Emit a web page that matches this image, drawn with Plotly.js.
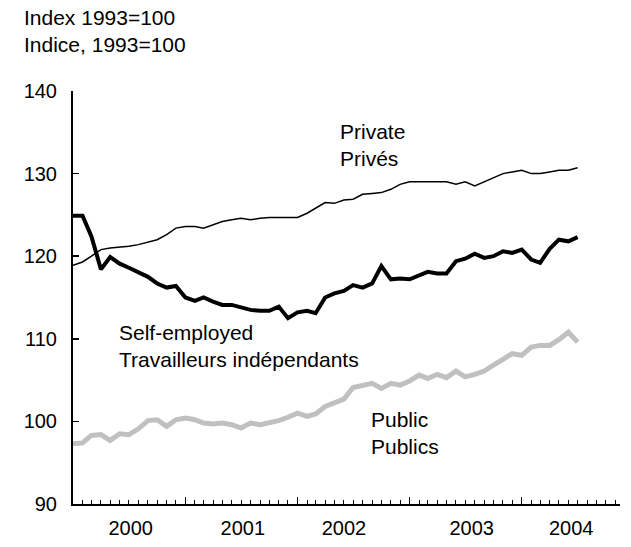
<!DOCTYPE html>
<html>
<head>
<meta charset="utf-8">
<script src="https://cdn.plot.ly/plotly-3.0.1.min.js"></script>
<style>html,body{margin:0;padding:0;background:#fff;}#chart{width:631px;height:547px;}</style>
</head>
<body>
<div id="chart"></div>
<script>
// Monthly observations, January 2000 to July 2004
const months = [
  '2000-01-01','2000-02-01','2000-03-01','2000-04-01','2000-05-01','2000-06-01','2000-07-01','2000-08-01','2000-09-01','2000-10-01','2000-11-01','2000-12-01',
  '2001-01-01','2001-02-01','2001-03-01','2001-04-01','2001-05-01','2001-06-01','2001-07-01','2001-08-01','2001-09-01','2001-10-01','2001-11-01','2001-12-01',
  '2002-01-01','2002-02-01','2002-03-01','2002-04-01','2002-05-01','2002-06-01','2002-07-01','2002-08-01','2002-09-01','2002-10-01','2002-11-01','2002-12-01',
  '2003-01-01','2003-02-01','2003-03-01','2003-04-01','2003-05-01','2003-06-01','2003-07-01','2003-08-01','2003-09-01','2003-10-01','2003-11-01','2003-12-01',
  '2004-01-01','2004-02-01','2004-03-01','2004-04-01','2004-05-01','2004-06-01','2004-07-01'
];

const privateIdx = [
  118.9,119.3,120.0,120.8,121.0,121.1,121.2,121.4,121.7,122.0,122.6,123.4,
  123.6,123.6,123.4,123.8,124.2,124.4,124.6,124.4,124.6,124.7,124.7,124.7,
  124.7,125.2,125.8,126.5,126.4,126.8,126.9,127.5,127.6,127.7,128.1,128.7,
  129.0,129.0,129.0,129.0,129.0,128.7,129.0,128.5,129.0,129.5,130.0,130.2,
  130.4,130.0,130.0,130.2,130.4,130.4,130.7
];

const selfEmployedIdx = [
  124.9,124.9,122.4,118.4,119.9,119.1,118.6,118.0,117.5,116.7,116.2,116.4,
  115.0,114.6,115.0,114.5,114.1,114.1,113.8,113.5,113.4,113.4,113.9,112.5,
  113.2,113.4,113.1,115.0,115.5,115.8,116.5,116.2,116.7,118.8,117.2,117.3,
  117.2,117.7,118.1,117.9,117.9,119.4,119.7,120.3,119.8,120.0,120.6,120.4,
  120.8,119.6,119.2,120.9,122.0,121.8,122.3
];

const publicIdx = [
  97.3,97.4,98.3,98.4,97.7,98.5,98.4,99.1,100.1,100.2,99.4,100.2,
  100.4,100.2,99.8,99.7,99.8,99.6,99.2,99.8,99.6,99.8,100.1,100.5,
  101.0,100.6,100.9,101.8,102.3,102.7,104.1,104.3,104.6,104.0,104.6,104.4,
  104.9,105.6,105.2,105.7,105.3,106.1,105.4,105.7,106.1,106.8,107.5,108.2,
  108.0,109.0,109.2,109.2,109.9,110.8,109.6
];

// Year labels and where they sit along the time axis
const yearLabels = ['2000','2001','2002','2003','2004'];
const yearLabelDates = ['2000-07-07','2001-07-07','2002-06-01','2003-07-22','2004-06-10'];

const xRange = ['2000-01-01','2004-11-16'];
const FONT = 'Liberation Sans, Arial, Helvetica, sans-serif';
const TEXT_SIZE = 21;

const traces = [
  {x: months, y: publicIdx, type: 'scatter', mode: 'lines', name: 'Public',
   line: {color: '#c0c0c0', width: 5}, hoverinfo: 'skip'},
  {x: months, y: privateIdx, type: 'scatter', mode: 'lines', name: 'Private',
   line: {color: '#000000', width: 1.5}, hoverinfo: 'skip'},
  {x: months, y: selfEmployedIdx, type: 'scatter', mode: 'lines', name: 'Self-employed',
   line: {color: '#000000', width: 4}, hoverinfo: 'skip'},
  {x: yearLabelDates, y: yearLabels.map(() => null), xaxis: 'x2', type: 'scatter',
   mode: 'lines', showlegend: false, hoverinfo: 'skip'}
];

const layout = {
  width: 631, height: 547,
  margin: {l: 73, r: 11, t: 91, b: 43, pad: 0},
  paper_bgcolor: '#ffffff', plot_bgcolor: '#ffffff',
  showlegend: false,
  font: {family: FONT, size: 20, color: '#000000'},
  title: {
    text: 'Index 1993=100<br>Indice, 1993=100',
    x: 24/631, xref: 'container', xanchor: 'left',
    y: 1 - 25/547, yref: 'container', yanchor: 'middle',
    font: {family: FONT, size: TEXT_SIZE, color: '#000000'}
  },
  xaxis: {
    type: 'date', range: xRange,
    showline: true, linecolor: '#000000', linewidth: 2,
    showgrid: false, zeroline: false,
    ticks: 'inside', tick0: '2000-01-01', dtick: 'M12', ticklen: 7, tickwidth: 1, tickcolor: '#000000',
    minor: {ticks: 'inside', tick0: '2000-01-01', dtick: 'M1', ticklen: 4, tickwidth: 1, tickcolor: '#000000', showgrid: false},
    showticklabels: false
  },
  xaxis2: {
    type: 'date', range: xRange, overlaying: 'x', anchor: 'y', side: 'bottom',
    tickmode: 'array', tickvals: yearLabelDates, ticktext: yearLabels,
    ticks: '', showline: false, showgrid: false, zeroline: false,
    ticklabelstandoff: 10,
    tickfont: {family: FONT, size: 20, color: '#000000'}
  },
  yaxis: {
    range: [90, 140], dtick: 10, tick0: 90,
    showline: true, linecolor: '#000000', linewidth: 2,
    showgrid: false, zeroline: false,
    ticks: 'inside', ticklen: 6, tickwidth: 1.5, tickcolor: '#000000',
    ticklabelstandoff: 10,
    tickfont: {family: FONT, size: 20, color: '#000000'}
  },
  annotations: [
    {text: 'Private<br>Privés', xref: 'paper', yref: 'paper', x: (338-73)/547, y: (504-145)/413,
     xanchor: 'left', yanchor: 'middle', align: 'left', showarrow: false, font: {family: FONT, size: TEXT_SIZE, color: '#000000'}},
    {text: 'Self-employed<br>Travailleurs indépendants', xref: 'paper', yref: 'paper', x: (117-73)/547, y: (504-346)/413,
     xanchor: 'left', yanchor: 'middle', align: 'left', showarrow: false, font: {family: FONT, size: TEXT_SIZE, color: '#000000'}},
    {text: 'Public<br>Publics', xref: 'paper', yref: 'paper', x: (369-73)/547, y: (504-433)/413,
     xanchor: 'left', yanchor: 'middle', align: 'left', showarrow: false, font: {family: FONT, size: TEXT_SIZE, color: '#000000'}}
  ]
};

Plotly.newPlot('chart', traces, layout, {staticPlot: true, displayModeBar: false});
</script>
</body>
</html>
